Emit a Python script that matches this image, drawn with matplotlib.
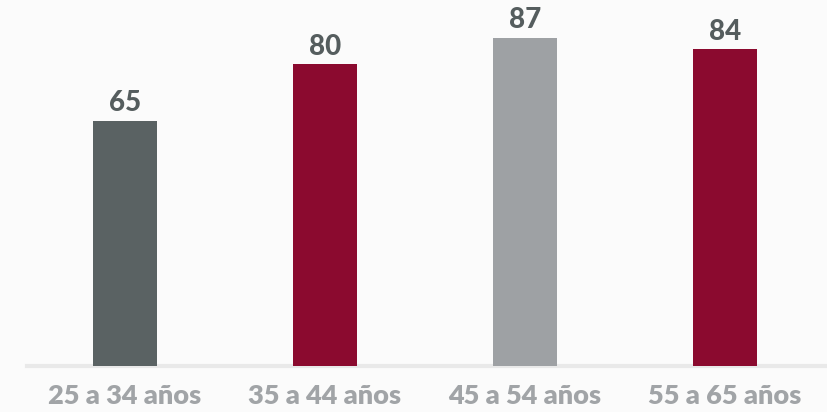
import matplotlib.pyplot as plt

# datos del gráfico
categorias = ['25 a 34 años', '35 a 44 años', '45 a 54 años', '55 a 65 años']
valores = [65, 80, 87, 84]
colores = ['#5a6263', '#8b0a2f', '#9ea1a4', '#8b0a2f']

fondo = '#fbfbfb'

fig = plt.figure(figsize=(8.28, 4.12), dpi=100, facecolor=fondo)
ax = fig.add_axes([27 / 828, 46 / 412, 801 / 828, 366 / 412], facecolor=fondo)

x = range(len(categorias))
barras = ax.bar(x, valores, width=0.32, color=colores, zorder=3)

for b, v in zip(barras, valores):
    ax.text(b.get_x() + b.get_width() / 2, v + 1.2, str(v),
            ha='center', va='bottom', fontsize=20, fontweight='black',
            color='#555d5e', family='Lato')

ax.set_xlim(-0.49, 3.515)
ax.set_ylim(0, 366 / 3.77)

for s in ['top', 'right', 'left']:
    ax.spines[s].set_visible(False)
ax.spines['bottom'].set_color('#e9e9e9')
ax.spines['bottom'].set_linewidth(3)
ax.spines['bottom'].set_zorder(2)

ax.set_yticks([])
ax.set_xticks(list(x))
ax.set_xticklabels(categorias, fontsize=19.5, fontweight='heavy',
                   color='#a1a4a7', family='Lato')
ax.tick_params(axis='x', length=0, pad=13)

fig.savefig('out.png', dpi=100, facecolor=fondo)
